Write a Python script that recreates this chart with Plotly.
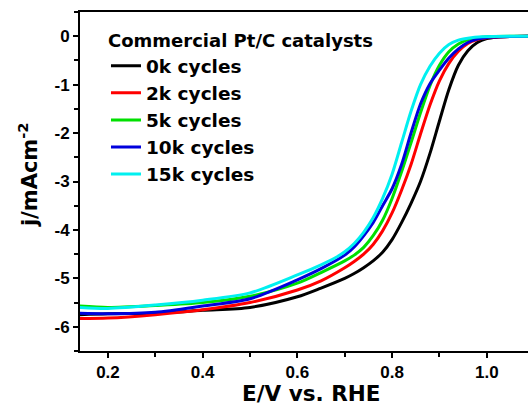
import plotly.graph_objects as go

# Data (E in V vs RHE, j in mA cm^-2)
e_0k = [0.14, 0.2, 0.3, 0.4, 0.5, 0.6, 0.65, 0.7, 0.72, 0.74, 0.76, 0.78, 0.8, 0.82, 0.84, 0.86, 0.88, 0.9, 0.92, 0.94, 0.96, 0.98, 1.0, 1.02, 1.05, 1.1]
j_0k = [-5.75, -5.73, -5.72, -5.66, -5.6, -5.38, -5.2, -5.0, -4.9, -4.78, -4.64, -4.46, -4.2, -3.85, -3.45, -3.0, -2.42, -1.75, -1.1, -0.6, -0.3, -0.13, -0.05, -0.02, -0.005, 0.0]

e_2k = [0.14, 0.2, 0.3, 0.4, 0.5, 0.6, 0.65, 0.7, 0.72, 0.74, 0.76, 0.78, 0.8, 0.82, 0.84, 0.86, 0.88, 0.9, 0.92, 0.94, 0.96, 0.98, 1.0, 1.03, 1.1]
j_2k = [-5.83, -5.82, -5.75, -5.65, -5.5, -5.24, -5.05, -4.78, -4.65, -4.5, -4.3, -4.02, -3.65, -3.18, -2.65, -2.02, -1.42, -0.92, -0.56, -0.31, -0.15, -0.07, -0.03, -0.01, 0.0]

e_5k = [0.14, 0.2, 0.3, 0.4, 0.5, 0.6, 0.65, 0.7, 0.72, 0.74, 0.76, 0.78, 0.8, 0.82, 0.84, 0.86, 0.88, 0.9, 0.92, 0.94, 0.96, 0.98, 1.0, 1.1]
j_5k = [-5.57, -5.6, -5.56, -5.5, -5.37, -5.1, -4.88, -4.64, -4.52, -4.36, -4.12, -3.8, -3.35, -2.8, -2.2, -1.58, -1.02, -0.6, -0.32, -0.16, -0.07, -0.03, -0.01, 0.0]

e_10k = [0.14, 0.2, 0.3, 0.4, 0.5, 0.6, 0.65, 0.7, 0.72, 0.74, 0.76, 0.78, 0.8, 0.82, 0.84, 0.86, 0.88, 0.9, 0.92, 0.94, 0.96, 0.98, 1.0, 1.03, 1.1]
j_10k = [-5.72, -5.73, -5.7, -5.57, -5.42, -5.03, -4.8, -4.52, -4.35, -4.12, -3.85, -3.5, -3.15, -2.65, -2.0, -1.4, -0.98, -0.7, -0.45, -0.26, -0.13, -0.06, -0.025, -0.01, 0.0]

e_15k = [0.14, 0.2, 0.3, 0.4, 0.5, 0.6, 0.65, 0.683, 0.7, 0.72, 0.74, 0.76, 0.78, 0.8, 0.82, 0.84, 0.86, 0.88, 0.9, 0.92, 0.94, 0.96, 0.99, 1.1]
j_15k = [-5.6, -5.62, -5.55, -5.45, -5.3, -4.93, -4.72, -4.56, -4.45, -4.28, -4.05, -3.75, -3.35, -2.85, -2.2, -1.55, -1.0, -0.62, -0.35, -0.17, -0.08, -0.04, -0.01, 0.0]

x_ticks = [0.2, 0.4, 0.6, 0.8, 1.0]
x_labels = ["0.2", "0.4", "0.6", "0.8", "1.0"]
y_ticks = [0, -1, -2, -3, -4, -5, -6]
y_labels = ["0", "-1", "-2", "-3", "-4", "-5", "-6"]

series = [
    ("0k cycles", e_0k, j_0k, "#000000"),
    ("2k cycles", e_2k, j_2k, "#ff0000"),
    ("5k cycles", e_5k, j_5k, "#00e000"),
    ("10k cycles", e_10k, j_10k, "#0000dd"),
    ("15k cycles", e_15k, j_15k, "#00f0f0"),
]

ARIAL = "Arial, Liberation Sans, sans-serif"
DEJAVU = "DejaVu Sans, sans-serif"

fig = go.Figure()
for name, e, j, c in series:
    fig.add_trace(go.Scatter(x=e, y=j, mode="lines", name=name,
                             line=dict(color=c, width=3, shape="spline", smoothing=0.8)))

axis_common = dict(showline=True, linecolor="black", linewidth=2, ticks="outside",
                   tickwidth=2, ticklen=5, tickcolor="black", showgrid=False, zeroline=False,
                   automargin=False,
                   tickfont=dict(family=ARIAL, size=17, color="black", weight="bold"))

fig.update_layout(
    width=528, height=407,
    margin=dict(l=80, r=0, t=12, b=56),
    plot_bgcolor="white", paper_bgcolor="white",
    font=dict(family=ARIAL, color="black"),
    xaxis=dict(range=[0.141, 1.087], tickvals=x_ticks, ticktext=["<b>%s</b>" % t for t in x_labels],
               minor=dict(ticks="outside", dtick=0.1, tick0=0.1, ticklen=4, tickwidth=2, tickcolor="black"),
               mirror=True,
               **axis_common),
    yaxis=dict(range=[-6.5, 0.5], tickvals=y_ticks, ticktext=["<b>%s</b>" % t for t in y_labels],
               minor=dict(ticks="outside", dtick=0.5, tick0=0.5, ticklen=4, tickwidth=2, tickcolor="black"),
               **axis_common),
    legend=dict(x=0.058, y=0.965, xanchor="left", yanchor="top", bgcolor="rgba(0,0,0,0)",
                title=dict(text="<b>Commercial Pt/C catalysts</b>", font=dict(family=DEJAVU, size=18, weight="bold")),
                font=dict(family=DEJAVU, size=18.5, weight="bold"), tracegroupgap=0),
    annotations=[
        dict(text="<b>j/mAcm<sup>-2</sup></b>", textangle=-90, xref="paper", yref="paper",
             x=-0.116, y=0.519, xanchor="center", yanchor="middle", showarrow=False,
             font=dict(family=DEJAVU, size=21, color="black", weight="bold")),
        dict(text="<b>E/V vs. RHE</b>", xref="paper", yref="paper",
             x=0.516, y=-0.125, xanchor="center", yanchor="middle", showarrow=False,
             font=dict(family=DEJAVU, size=21.5, color="black", weight="bold")),
    ],
)

fig.write_html("out.html", config={"displayModeBar": False},
               post_script="document.body.style.margin='0';")
